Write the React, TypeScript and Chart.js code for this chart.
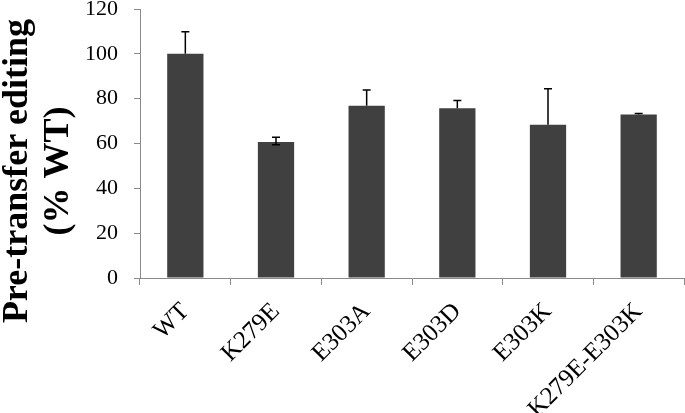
import React, { useEffect, useRef } from "react";
import { Chart, registerables } from "chart.js";

Chart.register(...registerables);

const categories = ["WT", "K279E", "E303A", "E303D", "E303K", "K279E-E303K"];
const values = [100, 60.7, 76.8, 75.7, 68.4, 72.9];
const errPlus = [9.8, 2.1, 7.1, 3.5, 16.0, 0.5];
const errMinus = [0, 1.3, 0, 0, 0, 0];
const yTicks = [0, 20, 40, 60, 80, 100, 120];
const yTitleLines = ["Pre-transfer editing", "(% WT)"];

const AXIS_COLOR = "#8a8a8a";
const BAR_COLOR = "#404040";
const SERIF = "'Liberation Serif', 'Times New Roman', serif";

const errorBarPlugin = {
  id: "errorBars",
  afterDatasetsDraw(chart: any) {
    const { ctx } = chart;
    const meta = chart.getDatasetMeta(0);
    const y = chart.scales.y;
    ctx.save();
    ctx.strokeStyle = "#000";
    ctx.lineWidth = 1.5;
    meta.data.forEach((bar: any, i: number) => {
      const x = bar.x;
      const top = y.getPixelForValue(values[i] + errPlus[i]);
      const bottom = y.getPixelForValue(values[i] - errMinus[i]);
      ctx.beginPath();
      ctx.moveTo(x, bottom);
      ctx.lineTo(x, top);
      ctx.moveTo(x - 4, top);
      ctx.lineTo(x + 4, top);
      if (errMinus[i] > 0) {
        ctx.moveTo(x - 4, bottom);
        ctx.lineTo(x + 4, bottom);
      }
      ctx.stroke();
    });
    ctx.restore();
  },
};

const yTitlePlugin = {
  id: "yTitle",
  afterDraw(chart: any) {
    const { ctx } = chart;
    ctx.save();
    ctx.fillStyle = "#000";
    ctx.font = "bold 36px " + SERIF;
    ctx.textAlign = "center";
    ctx.textBaseline = "alphabetic";
    const baselines = [27, 68];
    yTitleLines.forEach((line, i) => {
      ctx.save();
      ctx.translate(baselines[i], 171);
      ctx.rotate(-Math.PI / 2);
      ctx.fillText(line, 0, 0);
      ctx.restore();
    });
    ctx.restore();
  },
};

export default function App() {
  const ref = useRef<HTMLCanvasElement | null>(null);
  useEffect(() => {
    if (!ref.current) return;
    const chart = new Chart(ref.current, {
      type: "bar",
      data: {
        labels: categories,
        datasets: [
          {
            data: values,
            backgroundColor: BAR_COLOR,
            borderWidth: 0,
            barPercentage: 0.8,
            categoryPercentage: 0.5,
          },
        ],
      },
      options: {
        animation: false,
        responsive: false,
        layout: { padding: { top: 9, right: 1, left: 0, bottom: 0 } },
        plugins: {
          legend: { display: false },
          tooltip: { enabled: false },
          title: { display: false },
        },
        scales: {
          x: {
            grid: {
              display: true,
              drawOnChartArea: false,
              drawTicks: true,
              tickLength: 7,
              color: AXIS_COLOR,
              offset: true,
            },
            border: { display: true, color: AXIS_COLOR, width: 1 },
            ticks: {
              color: "#000",
              font: { family: SERIF, size: 25 },
              minRotation: 45,
              maxRotation: 45,
              autoSkip: false,
              padding: 12,
            },
            afterFit(scale: any) {
              scale.height = 135;
              scale.paddingLeft = 0;
              scale.paddingRight = 0;
            },
          },
          y: {
            min: 0,
            max: 120,
            afterBuildTicks(scale: any) {
              scale.ticks = yTicks.map((v) => ({ value: v }));
            },
            grid: {
              display: true,
              drawOnChartArea: false,
              drawTicks: true,
              tickLength: 6,
              color: AXIS_COLOR,
            },
            border: { display: true, color: AXIS_COLOR, width: 1 },
            ticks: {
              color: "#000",
              font: { family: SERIF, size: 22 },
              padding: 16,
            },
            afterFit(scale: any) {
              scale.width = 140;
              scale.paddingTop = 0;
              scale.paddingBottom = 0;
            },
          },
        },
      },
      plugins: [errorBarPlugin, yTitlePlugin],
    });
    return () => chart.destroy();
  }, []);
  return (
    <div style={{ position: "fixed", left: 0, top: 0, width: 685, height: 413, background: "#fff" }}>
      <canvas ref={ref} width={685} height={413} />
    </div>
  );
}
